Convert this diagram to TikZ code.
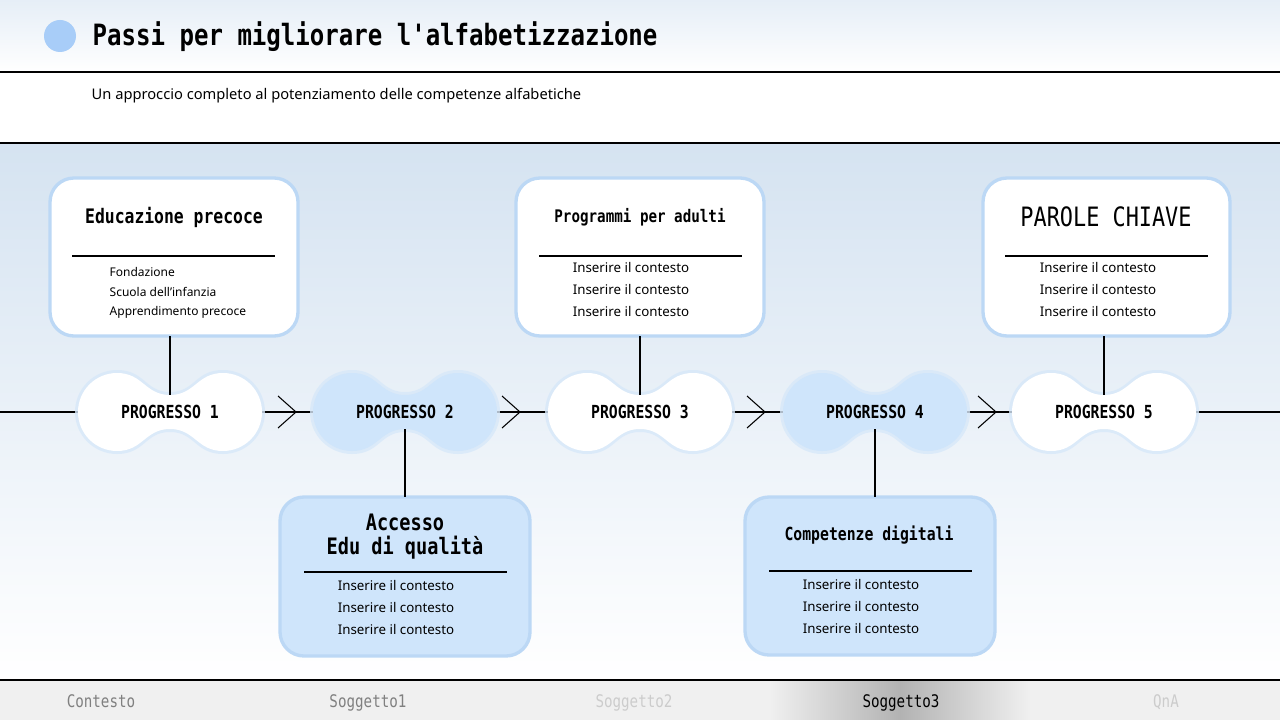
\documentclass[tikz,border=0pt]{standalone}
\usepackage{fontspec}
\setmainfont{Noto Sans}
\newfontfamily\mono[FakeStretch=0.82]{DejaVu Sans Mono}
\usetikzlibrary{calc}
\definecolor{lb}{HTML}{CFE5FB}
\definecolor{glow}{HTML}{BCD8F5}
\definecolor{dot}{HTML}{A8CDF8}
\definecolor{topbg}{HTML}{D5E3F1}
\tikzset{
 x=0.75pt,y=-0.75pt,
 card/.style={rounded corners=18pt,fill=#1,draw=glow,line width=2.5pt},
 ttl/.style={font=\mono\bfseries\fontsize{15}{17}\selectfont,align=center},
 itm/.style={font=\fontsize{10}{16.5}\selectfont,align=left},
 pg/.style={font=\mono\bfseries\fontsize{13.5}{15}\selectfont},
 ln/.style={line width=0.8pt},
 foot/.style={font=\mono\fontsize{13}{15}\selectfont,anchor=base}
}
\newcommand{\peanut}[3]{%
 \fill[glow!60,opacity=0.8] (#1-53,412-42) .. controls (#1-25,412-42) and (#1-25,412-20) .. (#1,412-20) .. controls (#1+25,412-20) and (#1+25,412-42) .. (#1+53,412-42) arc[start angle=-90,end angle=90,radius=42] .. controls (#1+25,412+42) and (#1+25,412+20) .. (#1,412+20) .. controls (#1-25,412+20) and (#1-25,412+42) .. (#1-53,412+42) arc[start angle=90,end angle=270,radius=42] -- cycle;
 \fill[#2] (#1-53,412-39) .. controls (#1-27,412-39) and (#1-25,412-17) .. (#1,412-17) .. controls (#1+25,412-17) and (#1+27,412-39) .. (#1+53,412-39) arc[start angle=-90,end angle=90,radius=39] .. controls (#1+27,412+39) and (#1+25,412+17) .. (#1,412+17) .. controls (#1-25,412+17) and (#1-27,412+39) .. (#1-53,412+39) arc[start angle=90,end angle=270,radius=39] -- cycle;
 \node[pg] (p#3) at (#1,412) {PROGRESSO #3};
 \coordinate (pt#3) at (#1,395);
 \coordinate (pb#3) at (#1,429);}
\newcommand{\chev}[1]{\draw[ln] (#1-18,396) -- (#1,412) -- (#1-18,428);}
\begin{document}
\begin{tikzpicture}
\useasboundingbox (0,0) rectangle (1280,720);
\shade[top color=topbg!60,bottom color=white] (0,0) rectangle (1280,72);
\fill[white] (0,72) rectangle (1280,143);
\shade[top color=topbg,bottom color=white] (0,143) rectangle (1280,680);
\fill[gray!12] (0,680) rectangle (1280,720);
\shade[left color=gray!12,right color=gray!60] (770,681) rectangle (900,720);
\shade[left color=gray!60,right color=gray!12] (900,681) rectangle (1030,720);
\draw[ln] (0,72) -- (1280,72);
\draw[ln] (0,143) -- (1280,143);
\draw[ln] (0,680) -- (1280,680);
\fill[dot] (60,36) circle (16);
\node[anchor=west,font=\mono\bfseries\fontsize{22}{26}\selectfont] (title) at (88,37) {Passi per migliorare l'alfabetizzazione};
\node[anchor=west,font=\fontsize{11}{13}\selectfont] (sub) at (87,96) {Un approccio completo al potenziamento delle competenze alfabetiche};
\coordinate (L) at (0,412); \coordinate (R) at (1280,412);
\draw[ln] (L) -- (R);
\chev{296}\chev{520}\chev{765}\chev{996}
\peanut{170}{white}{1}
\peanut{405}{lb}{2}
\peanut{640}{white}{3}
\peanut{875}{lb}{4}
\peanut{1104}{white}{5}
\draw[card=white] (50,178) rectangle (298,336);
\draw[card=white] (516,178) rectangle (764,336);
\draw[card=white] (983,178) rectangle (1230,336);
\draw[card=lb] (280,497) rectangle (530,656);
\draw[card=lb] (745,497) rectangle (995,655);
\coordinate (b1) at (170,336); \coordinate (b3) at (640,336); \coordinate (b5) at (1104,336);
\coordinate (b2) at (405,497); \coordinate (b4) at (875,497);
\draw[ln] (b1) -- (pt1); \draw[ln] (b3) -- (pt3); \draw[ln] (b5) -- (pt5);
\draw[ln] (pb2) -- (b2); \draw[ln] (pb4) -- (b4);
\node[ttl] (t1) at (174,217) {Educazione precoce};
\draw[ln] (72,256) -- (275,256);
\node[itm,anchor=north west,font=\fontsize{9}{14.5}\selectfont] (i1) at (105,263) {Fondazione\\Scuola dell'infanzia\\Apprendimento precoce};
\node[ttl,font=\mono\bfseries\fontsize{13}{15}\selectfont] (t3) at (640,217) {Programmi per adulti};
\draw[ln] (539,256) -- (742,256);
\node[itm,anchor=north,align=center] (i3) at (631,258) {Inserire il contesto\\Inserire il contesto\\Inserire il contesto};
\node[ttl,font=\mono\fontsize{20}{22}\selectfont] (t5) at (1106,217) {PAROLE CHIAVE};
\draw[ln] (1005,256) -- (1208,256);
\node[itm,anchor=north,align=center] (i5) at (1098,258) {Inserire il contesto\\Inserire il contesto\\Inserire il contesto};
\node[ttl,font=\mono\bfseries\fontsize{17}{18}\selectfont] (t2) at (405,537) {Accesso\\Edu di qualità};
\draw[ln] (304,572) -- (507,572);
\node[itm,anchor=north,align=center] (i2) at (396,576) {Inserire il contesto\\Inserire il contesto\\Inserire il contesto};
\node[ttl,font=\mono\bfseries\fontsize{13.5}{15}\selectfont] (t4) at (869,535) {Competenze digitali};
\draw[ln] (769,571) -- (972,571);
\node[itm,anchor=north,align=center] (i4) at (861,575) {Inserire il contesto\\Inserire il contesto\\Inserire il contesto};
\node[foot,text=gray] (f1) at (101,707) {Contesto};
\node[foot,text=gray] (f2) at (368,707) {Soggetto1};
\node[foot,text=gray!40] (f3) at (634,707) {Soggetto2};
\node[foot,text=black] (f4) at (901,707) {Soggetto3};
\node[foot,text=gray!40] (f5) at (1166,707) {QnA};
\end{tikzpicture}
\end{document}
